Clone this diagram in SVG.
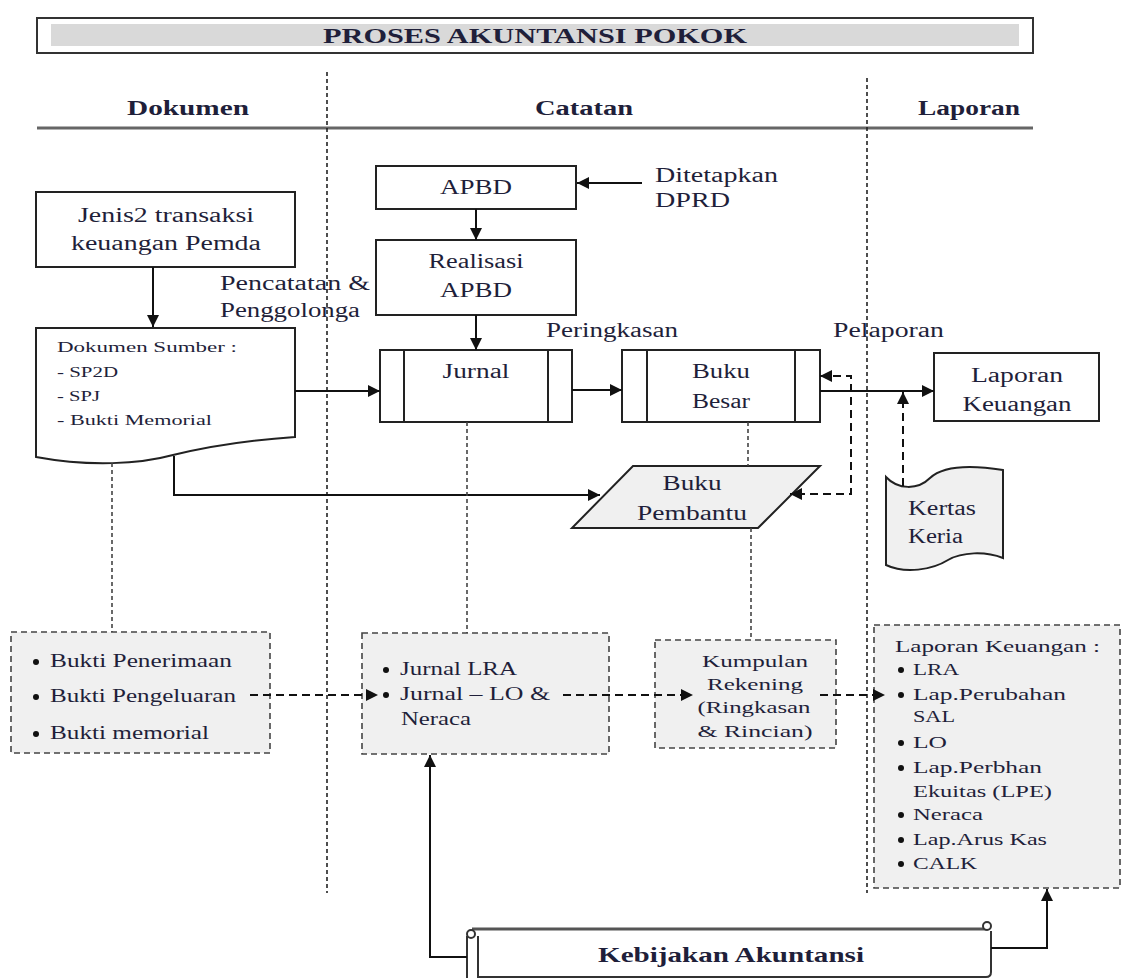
<svg xmlns="http://www.w3.org/2000/svg" width="1125" height="978" viewBox="0 0 1125 978">
<style>
text{font-family:"Liberation Serif","Times New Roman",serif;fill:#1f1f3a}
.t20{font-size:20px}
.t18{font-size:18px}
.t17{font-size:17px}
.t15{font-size:15px}
.c{text-anchor:middle}
.b{font-weight:bold}
.box{fill:#fff;stroke:#222;stroke-width:2}
.gbox{fill:#f0f0f0;stroke:#444;stroke-width:1.6;stroke-dasharray:6 4}
.lane{fill:none;stroke:#222;stroke-width:1.6;stroke-dasharray:4 3}
.dot{fill:none;stroke:#444;stroke-width:1.6;stroke-dasharray:4 3}
.solid{fill:none;stroke:#111;stroke-width:2}
.dash{fill:none;stroke:#111;stroke-width:2;stroke-dasharray:8 5}
.bul{fill:#111}
</style>
<defs>
<marker id="ahb" viewBox="0 0 10 10" refX="10" refY="5" markerWidth="14" markerHeight="12" markerUnits="userSpaceOnUse" orient="auto-start-reverse">
<path d="M0,0 L10,5 L0,10 z" fill="#111"/>
</marker>
</defs>

<g id="title">
<rect x="37" y="18" width="996" height="35" fill="#fff" stroke="#333" stroke-width="2"/>
<rect x="51" y="24" width="968" height="22" fill="#d9d9d9"/>
<text x="535" y="43" class="c b" font-size="20" textLength="424" lengthAdjust="spacingAndGlyphs">PROSES AKUNTANSI POKOK</text>
</g>

<g id="headers">
<text x="188" y="115" class="c b" font-size="20" textLength="122" lengthAdjust="spacingAndGlyphs">Dokumen</text>
<text x="584" y="115" class="c b" font-size="20" textLength="98" lengthAdjust="spacingAndGlyphs">Catatan</text>
<text x="969" y="115" class="c b" font-size="20" textLength="102" lengthAdjust="spacingAndGlyphs">Laporan</text>
<line x1="37" y1="128" x2="1033" y2="128" stroke="#666" stroke-width="3"/>
</g>

<g id="lanes">
<line class="lane" x1="327" y1="72" x2="327" y2="893"/>
<line class="lane" x1="867" y1="78" x2="867" y2="893"/>
</g>

<g id="jenis">
<rect class="box" x="36" y="192" width="259" height="75"/>
<text x="166" y="222" class="t20 c" textLength="176" lengthAdjust="spacingAndGlyphs">Jenis2 transaksi</text>
<text x="166" y="250" class="t20 c" textLength="190" lengthAdjust="spacingAndGlyphs">keuangan Pemda</text>
</g>

<g id="label-pencatatan">
<text x="220" y="290" class="t20" textLength="150" lengthAdjust="spacingAndGlyphs">Pencatatan &amp;</text>
<text x="220" y="317" class="t20" textLength="140" lengthAdjust="spacingAndGlyphs">Penggolonga</text>
</g>

<g id="dokumen-sumber">
<path class="box" d="M36,328 H295 V437 C250,440 210,446 173,455 C140,464 90,467 36,457 Z"/>
<text x="57" y="352" class="t15" textLength="180" lengthAdjust="spacingAndGlyphs">Dokumen Sumber :</text>
<text x="57" y="377" class="t15" textLength="61" lengthAdjust="spacingAndGlyphs">- SP2D</text>
<text x="57" y="401" class="t15" textLength="43" lengthAdjust="spacingAndGlyphs">- SPJ</text>
<text x="57" y="425" class="t15" textLength="155" lengthAdjust="spacingAndGlyphs">- Bukti Memorial</text>
</g>

<g id="apbd">
<rect class="box" x="376" y="166" width="200" height="43"/>
<text x="476" y="194" class="t20 c" textLength="72" lengthAdjust="spacingAndGlyphs">APBD</text>
</g>

<g id="ditetapkan">
<text x="655" y="182" class="t20" textLength="123" lengthAdjust="spacingAndGlyphs">Ditetapkan</text>
<text x="655" y="207" class="t20" textLength="75" lengthAdjust="spacingAndGlyphs">DPRD</text>
</g>

<g id="realisasi">
<rect class="box" x="376" y="240" width="200" height="75"/>
<text x="476" y="268" class="t20 c" textLength="95" lengthAdjust="spacingAndGlyphs">Realisasi</text>
<text x="476" y="297" class="t20 c" textLength="72" lengthAdjust="spacingAndGlyphs">APBD</text>
</g>

<g id="jurnal">
<rect class="box" x="380" y="350" width="192" height="72"/>
<line x1="404" y1="350" x2="404" y2="422" stroke="#222" stroke-width="2"/>
<line x1="548" y1="350" x2="548" y2="422" stroke="#222" stroke-width="2"/>
<text x="476" y="378" class="t20 c" textLength="67" lengthAdjust="spacingAndGlyphs">Jurnal</text>
</g>

<g id="label-peringkasan">
<text x="546" y="337" class="t20" textLength="132" lengthAdjust="spacingAndGlyphs">Peringkasan</text>
</g>

<g id="buku-besar">
<rect class="box" x="622" y="350" width="198" height="72"/>
<line x1="647" y1="350" x2="647" y2="422" stroke="#222" stroke-width="2"/>
<line x1="795" y1="350" x2="795" y2="422" stroke="#222" stroke-width="2"/>
<text x="721" y="378" class="t20 c" textLength="58" lengthAdjust="spacingAndGlyphs">Buku</text>
<text x="721" y="408" class="t20 c" textLength="58" lengthAdjust="spacingAndGlyphs">Besar</text>
</g>

<g id="label-pelaporan">
<text x="833" y="337" class="t20" textLength="111" lengthAdjust="spacingAndGlyphs">Pelaporan</text>
</g>

<g id="laporan-keuangan">
<rect class="box" x="934" y="353" width="165" height="68"/>
<text x="1017" y="382" class="t20 c" textLength="92" lengthAdjust="spacingAndGlyphs">Laporan</text>
<text x="1017" y="411" class="t20 c" textLength="109" lengthAdjust="spacingAndGlyphs">Keuangan</text>
</g>

<g id="buku-pembantu">
<path d="M633,466 H820 L758,528 H572 Z" fill="#f0f0f0" stroke="#222" stroke-width="2"/>
<text x="692" y="490" class="t20 c" textLength="59" lengthAdjust="spacingAndGlyphs">Buku</text>
<text x="692" y="520" class="t20 c" textLength="110" lengthAdjust="spacingAndGlyphs">Pembantu</text>
</g>

<g id="kertas-kerja">
<path d="M886,477 C898,490 918,490 930,478 C945,464 978,466 1003,470 V558 C985,551 962,552 948,560 C932,570 905,574 886,565 Z" fill="#f0f0f0" stroke="#222" stroke-width="2"/>
<text x="908" y="515" class="t20" textLength="68" lengthAdjust="spacingAndGlyphs">Kertas</text>
<text x="908" y="543" class="t20" textLength="55" lengthAdjust="spacingAndGlyphs">Keria</text>
</g>

<g id="bukti">
<rect class="gbox" x="11" y="632" width="259" height="121"/>
<circle class="bul" cx="36" cy="662" r="3"/>
<text x="50" y="667" class="t18" textLength="182" lengthAdjust="spacingAndGlyphs">Bukti Penerimaan</text>
<circle class="bul" cx="36" cy="697" r="3"/>
<text x="50" y="702" class="t18" textLength="186" lengthAdjust="spacingAndGlyphs">Bukti Pengeluaran</text>
<circle class="bul" cx="36" cy="734" r="3"/>
<text x="50" y="739" class="t18" textLength="159" lengthAdjust="spacingAndGlyphs">Bukti memorial</text>
</g>

<g id="jurnal-lra">
<rect class="gbox" x="362" y="633" width="247" height="121"/>
<circle class="bul" cx="386" cy="670" r="3"/>
<text x="400" y="675" class="t18" textLength="117" lengthAdjust="spacingAndGlyphs">Jurnal LRA</text>
<circle class="bul" cx="386" cy="695" r="3"/>
<text x="400" y="700" class="t18" textLength="150" lengthAdjust="spacingAndGlyphs">Jurnal – LO &amp;</text>
<text x="401" y="725" class="t18" textLength="70" lengthAdjust="spacingAndGlyphs">Neraca</text>
</g>

<g id="kumpulan">
<rect class="gbox" x="655" y="640" width="181" height="108"/>
<text x="755" y="667" class="t17 c" textLength="106" lengthAdjust="spacingAndGlyphs">Kumpulan</text>
<text x="755" y="690" class="t17 c" textLength="96" lengthAdjust="spacingAndGlyphs">Rekening</text>
<text x="754" y="713" class="t17 c" textLength="113" lengthAdjust="spacingAndGlyphs">(Ringkasan</text>
<text x="755" y="737" class="t17 c" textLength="115" lengthAdjust="spacingAndGlyphs">&amp; Rincian)</text>
</g>

<g id="laporan-list">
<rect class="gbox" x="874" y="625" width="246" height="263"/>
<text x="895" y="652" class="t17" textLength="205" lengthAdjust="spacingAndGlyphs">Laporan Keuangan :</text>
<circle class="bul" cx="901" cy="670" r="3"/>
<text x="913" y="675" class="t17" textLength="46" lengthAdjust="spacingAndGlyphs">LRA</text>
<circle class="bul" cx="901" cy="695" r="3"/>
<text x="913" y="700" class="t17" textLength="153" lengthAdjust="spacingAndGlyphs">Lap.Perubahan</text>
<text x="913" y="722" class="t17" textLength="42" lengthAdjust="spacingAndGlyphs">SAL</text>
<circle class="bul" cx="901" cy="743" r="3"/>
<text x="913" y="748" class="t17" textLength="34" lengthAdjust="spacingAndGlyphs">LO</text>
<circle class="bul" cx="901" cy="768" r="3"/>
<text x="913" y="773" class="t17" textLength="129" lengthAdjust="spacingAndGlyphs">Lap.Perbhan</text>
<text x="913" y="797" class="t17" textLength="139" lengthAdjust="spacingAndGlyphs">Ekuitas (LPE)</text>
<circle class="bul" cx="901" cy="815" r="3"/>
<text x="913" y="820" class="t17" textLength="70" lengthAdjust="spacingAndGlyphs">Neraca</text>
<circle class="bul" cx="901" cy="840" r="3"/>
<text x="913" y="845" class="t17" textLength="134" lengthAdjust="spacingAndGlyphs">Lap.Arus Kas</text>
<circle class="bul" cx="901" cy="864" r="3"/>
<text x="913" y="869" class="t17" textLength="64" lengthAdjust="spacingAndGlyphs">CALK</text>
</g>

<g id="kebijakan">
<path d="M478,931 H991 V972 Q991,977 986,977 H478 Z" fill="#fff" stroke="none"/>
<path d="M472,929 H986" fill="none" stroke="#555" stroke-width="3"/>
<path d="M991,931 V972 Q991,977 986,977 H478" fill="none" stroke="#333" stroke-width="2"/>
<path d="M467,936 V980 M478,936 V980" fill="none" stroke="#333" stroke-width="2"/>
<circle cx="471" cy="934" r="4" fill="#fff" stroke="#333" stroke-width="2"/>
<circle cx="987" cy="926" r="4" fill="#fff" stroke="#333" stroke-width="2"/>
<text x="731" y="962" class="c b" font-size="22" textLength="266" lengthAdjust="spacingAndGlyphs">Kebijakan Akuntansi</text>
</g>

<g id="connectors">
<path class="solid" d="M153,267 V327" marker-end="url(#ahb)"/>
<path class="solid" d="M295,391 H380" marker-end="url(#ahb)"/>
<path class="solid" d="M174,456 V495 H600" marker-end="url(#ahb)"/>
<path class="solid" d="M642,183 H577" marker-end="url(#ahb)"/>
<path class="solid" d="M476,209 V240" marker-end="url(#ahb)"/>
<path class="solid" d="M476,315 V350" marker-end="url(#ahb)"/>
<path class="solid" d="M572,390 H622" marker-end="url(#ahb)"/>
<path class="solid" d="M820,391 H934" marker-end="url(#ahb)"/>
<path class="dash" d="M820,376 H851 V494 H790" marker-start="url(#ahb)" marker-end="url(#ahb)"/>
<path class="dash" d="M903,486 V392" marker-end="url(#ahb)"/>
<path class="dot" d="M112,463 V632"/>
<path class="dot" d="M467,422 V633"/>
<path class="dot" d="M748,422 V466"/>
<path class="dot" d="M751,528 V640"/>
<path class="dash" d="M250,695 H378" marker-end="url(#ahb)"/>
<path class="dash" d="M563,695 H693" marker-end="url(#ahb)"/>
<path class="dash" d="M820,695 H885" marker-end="url(#ahb)"/>
<path class="solid" d="M467,957 H430 V755" marker-end="url(#ahb)"/>
<path class="solid" d="M991,948 H1047 V889" marker-end="url(#ahb)"/>
</g>
</svg>
